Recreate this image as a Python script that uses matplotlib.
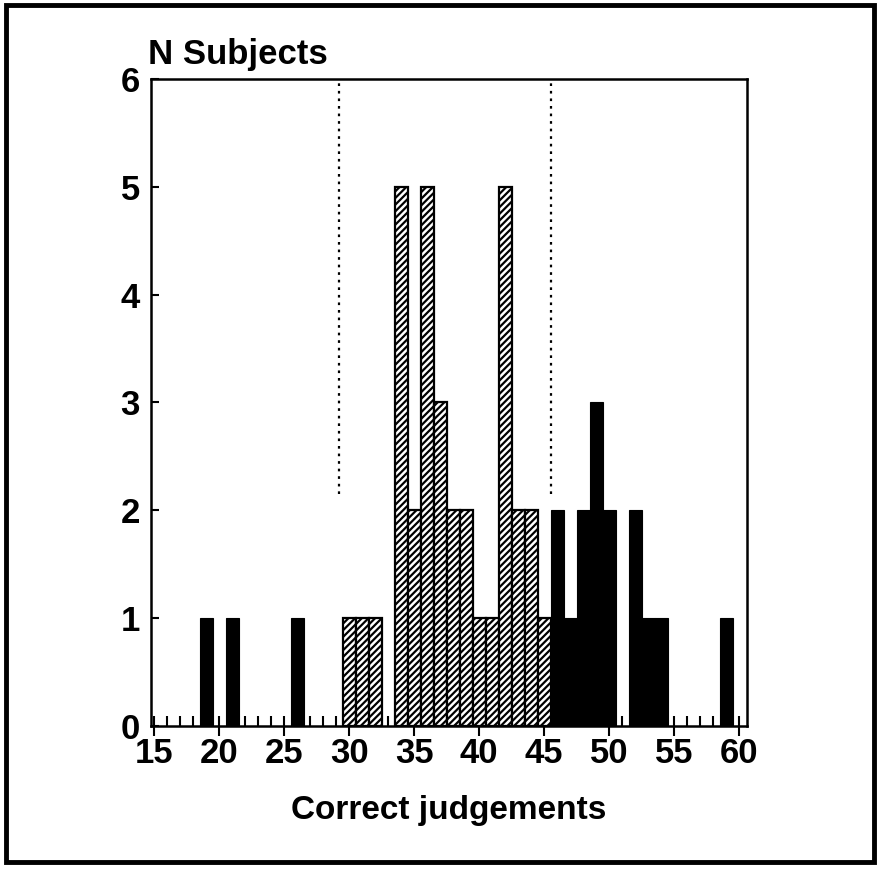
import matplotlib
matplotlib.use("Agg")
import matplotlib.pyplot as plt
import matplotlib.ticker as ticker
from matplotlib.patches import Rectangle

# ── data ─────────────────────────────────────────────────────────────
# black bars (outside the dotted limits)
black_scores = [19, 21, 26, 46, 47, 48, 49, 50, 52, 53, 54, 59]
black_counts = [1, 1, 1, 2, 1, 2, 3, 2, 2, 1, 1, 1]
# hatched bars (between the limits)
hatch_scores = [30, 31, 32, 34, 35, 36, 37, 38, 39, 40, 41, 42, 43, 44, 45]
hatch_counts = [1, 1, 1, 5, 2, 5, 3, 2, 2, 1, 1, 5, 2, 2, 1]
# dotted limit lines
limit_x = [29.2, 45.5]
limit_ymin = 2.15

x_ticks = [15, 20, 25, 30, 35, 40, 45, 50, 55, 60]
y_ticks = [0, 1, 2, 3, 4, 5, 6]

plt.rcParams["font.family"] = ["Liberation Sans", "DejaVu Sans"]
plt.rcParams["font.weight"] = "bold"

fig = plt.figure(figsize=(8.77, 8.69), dpi=100)
ax = fig.add_axes([151 / 877, (869 - 725.6) / 869, (747 - 151) / 877, (725.6 - 79) / 869])

ax.bar(black_scores, black_counts, width=1.0, color="black", edgecolor="black",
       linewidth=0.8, zorder=2)
plt.rcParams["hatch.linewidth"] = 1.6
ax.bar(hatch_scores, hatch_counts, width=1.0, color="white", edgecolor="black",
       hatch="/////", linewidth=1.6, zorder=2)

for lx in limit_x:
    ax.plot([lx, lx], [limit_ymin, 6], color="black", linestyle=(0, (1.2, 2.2)),
            linewidth=1.6, zorder=3)

ax.set_xlim(14.75, 60.6)
ax.set_ylim(0, 6)

ax.set_xticks(x_ticks)
ax.set_yticks(y_ticks)
ax.xaxis.set_minor_locator(ticker.MultipleLocator(1))
ax.tick_params(axis="x", which="major", direction="inout", length=14, width=1.5,
               labelsize=25, pad=1)
ax.tick_params(axis="x", which="minor", direction="in", length=7, width=1.5)
ax.tick_params(axis="y", which="major", direction="in", length=6, width=1.5,
               labelsize=25, pad=8)

for s in ax.spines.values():
    s.set_linewidth(1.8)

ax.set_xlabel("Correct judgements", fontsize=24, fontweight="bold", labelpad=18)
ax.text(-0.005, 1.012, "N Subjects", transform=ax.transAxes, fontsize=25,
        fontweight="bold", ha="left", va="bottom")

# outer frame round the whole figure
fig.patches.append(Rectangle((6 / 877, (869 - 862) / 869), (874 - 6) / 877,
                             (862 - 5) / 869, transform=fig.transFigure,
                             fill=False, edgecolor="black", linewidth=3.5))

fig.savefig("out.png", dpi=100)
